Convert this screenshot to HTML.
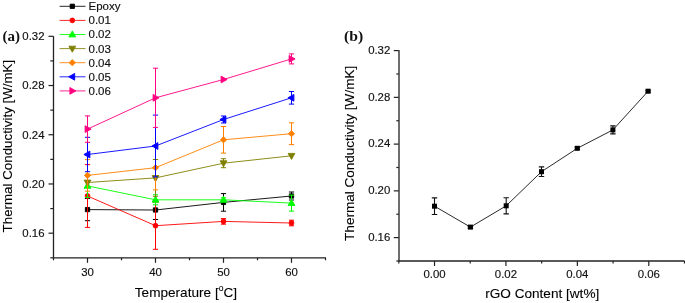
<!DOCTYPE html>
<html><head><meta charset="utf-8"><style>
html,body{margin:0;padding:0;background:#fff;}
body{width:685px;height:303px;overflow:hidden;}
svg{display:block;will-change:transform;}
.tk{font-family:"Liberation Sans", sans-serif;font-size:11.4px;fill:#111;stroke:#111;stroke-width:0.15px;}
.lg{font-family:"Liberation Sans", sans-serif;font-size:11.5px;fill:#111;stroke:#111;stroke-width:0.15px;}
.tt{font-family:"Liberation Sans", sans-serif;font-size:13.3px;fill:#000;stroke:#000;stroke-width:0.1px;}
.lab{font-family:"Liberation Serif", serif;font-size:15px;font-weight:bold;fill:#111;}
</style></head><body>
<svg width="685" height="303" viewBox="0 0 685 303">
<rect width="685" height="303" fill="#fff"/>
<path d="M53.5,36.3 V257.8 H326.0" fill="none" stroke="#222" stroke-width="1.3"/>
<line x1="50.3" y1="257.80" x2="53.5" y2="257.80" stroke="#222" stroke-width="1.2"/>
<line x1="48.5" y1="233.19" x2="53.5" y2="233.19" stroke="#222" stroke-width="1.2"/>
<text x="44.5" y="237.09" text-anchor="end" class="tk">0.16</text>
<line x1="50.3" y1="208.58" x2="53.5" y2="208.58" stroke="#222" stroke-width="1.2"/>
<line x1="48.5" y1="183.97" x2="53.5" y2="183.97" stroke="#222" stroke-width="1.2"/>
<text x="44.5" y="187.87" text-anchor="end" class="tk">0.20</text>
<line x1="50.3" y1="159.36" x2="53.5" y2="159.36" stroke="#222" stroke-width="1.2"/>
<line x1="48.5" y1="134.74" x2="53.5" y2="134.74" stroke="#222" stroke-width="1.2"/>
<text x="44.5" y="138.64" text-anchor="end" class="tk">0.24</text>
<line x1="50.3" y1="110.13" x2="53.5" y2="110.13" stroke="#222" stroke-width="1.2"/>
<line x1="48.5" y1="85.52" x2="53.5" y2="85.52" stroke="#222" stroke-width="1.2"/>
<text x="44.5" y="89.42" text-anchor="end" class="tk">0.28</text>
<line x1="50.3" y1="60.91" x2="53.5" y2="60.91" stroke="#222" stroke-width="1.2"/>
<line x1="48.5" y1="36.30" x2="53.5" y2="36.30" stroke="#222" stroke-width="1.2"/>
<text x="44.5" y="40.20" text-anchor="end" class="tk">0.32</text>
<line x1="53.50" y1="257.8" x2="53.50" y2="260.3" stroke="#222" stroke-width="1.2"/>
<line x1="87.50" y1="257.8" x2="87.50" y2="262.8" stroke="#222" stroke-width="1.2"/>
<text x="87.50" y="275.8" text-anchor="middle" class="tk">30</text>
<line x1="121.50" y1="257.8" x2="121.50" y2="260.3" stroke="#222" stroke-width="1.2"/>
<line x1="155.50" y1="257.8" x2="155.50" y2="262.8" stroke="#222" stroke-width="1.2"/>
<text x="155.50" y="275.8" text-anchor="middle" class="tk">40</text>
<line x1="189.50" y1="257.8" x2="189.50" y2="260.3" stroke="#222" stroke-width="1.2"/>
<line x1="223.50" y1="257.8" x2="223.50" y2="262.8" stroke="#222" stroke-width="1.2"/>
<text x="223.50" y="275.8" text-anchor="middle" class="tk">50</text>
<line x1="257.50" y1="257.8" x2="257.50" y2="260.3" stroke="#222" stroke-width="1.2"/>
<line x1="291.50" y1="257.8" x2="291.50" y2="262.8" stroke="#222" stroke-width="1.2"/>
<text x="291.50" y="275.8" text-anchor="middle" class="tk">60</text>
<line x1="325.50" y1="257.8" x2="325.50" y2="260.3" stroke="#222" stroke-width="1.2"/>
<text x="134.8" y="296.8" class="tt" style="font-size:13.6px">Temperature [<tspan font-size="8.5" dy="-5.5">o</tspan><tspan dy="5.5">C]</tspan></text>
<text transform="translate(12,232.4) rotate(-90)" class="tt" textLength="172.6" lengthAdjust="spacingAndGlyphs">Thermal Conductivity [W/mK]</text>
<text x="2.5" y="41.2" class="lab">(a)</text>
<polyline points="87.50,209.60 155.50,210.00 223.50,202.40 291.50,196.00" fill="none" stroke="#000000" stroke-width="0.9"/>
<path d="M87.50,198.50 V220.70 M84.90,198.50 H90.10 M84.90,220.70 H90.10" fill="none" stroke="#000000" stroke-width="1"/>
<path d="M155.50,200.50 V219.50 M152.90,200.50 H158.10 M152.90,219.50 H158.10" fill="none" stroke="#000000" stroke-width="1"/>
<path d="M223.50,193.60 V211.20 M220.90,193.60 H226.10 M220.90,211.20 H226.10" fill="none" stroke="#000000" stroke-width="1"/>
<path d="M291.50,192.00 V200.00 M288.90,192.00 H294.10 M288.90,200.00 H294.10" fill="none" stroke="#000000" stroke-width="1"/>
<rect x="85.35" y="207.45" width="4.30" height="4.30" fill="#000000" stroke="#000000" stroke-width="0.9" stroke-linejoin="round"/>
<rect x="153.35" y="207.85" width="4.30" height="4.30" fill="#000000" stroke="#000000" stroke-width="0.9" stroke-linejoin="round"/>
<rect x="221.35" y="200.25" width="4.30" height="4.30" fill="#000000" stroke="#000000" stroke-width="0.9" stroke-linejoin="round"/>
<rect x="289.35" y="193.85" width="4.30" height="4.30" fill="#000000" stroke="#000000" stroke-width="0.9" stroke-linejoin="round"/>
<polyline points="87.50,196.00 155.50,225.70 223.50,221.40 291.50,223.00" fill="none" stroke="#ff0000" stroke-width="0.9"/>
<path d="M87.50,164.60 V227.40 M84.90,164.60 H90.10 M84.90,227.40 H90.10" fill="none" stroke="#ff0000" stroke-width="1"/>
<path d="M155.50,202.10 V249.30 M152.90,202.10 H158.10 M152.90,249.30 H158.10" fill="none" stroke="#ff0000" stroke-width="1"/>
<path d="M223.50,218.60 V224.20 M220.90,218.60 H226.10 M220.90,224.20 H226.10" fill="none" stroke="#ff0000" stroke-width="1"/>
<path d="M291.50,220.20 V225.80 M288.90,220.20 H294.10 M288.90,225.80 H294.10" fill="none" stroke="#ff0000" stroke-width="1"/>
<circle cx="87.50" cy="196.00" r="2.4" fill="#ff0000" stroke="#ff0000" stroke-width="0.9" stroke-linejoin="round"/>
<circle cx="155.50" cy="225.70" r="2.4" fill="#ff0000" stroke="#ff0000" stroke-width="0.9" stroke-linejoin="round"/>
<circle cx="223.50" cy="221.40" r="2.4" fill="#ff0000" stroke="#ff0000" stroke-width="0.9" stroke-linejoin="round"/>
<circle cx="291.50" cy="223.00" r="2.4" fill="#ff0000" stroke="#ff0000" stroke-width="0.9" stroke-linejoin="round"/>
<polyline points="87.50,185.90 155.50,199.80 223.50,199.80 291.50,203.10" fill="none" stroke="#00ff00" stroke-width="0.9"/>
<path d="M87.50,174.40 V197.40 M84.90,174.40 H90.10 M84.90,197.40 H90.10" fill="none" stroke="#00ff00" stroke-width="1"/>
<path d="M155.50,194.80 V204.80 M152.90,194.80 H158.10 M152.90,204.80 H158.10" fill="none" stroke="#00ff00" stroke-width="1"/>
<path d="M223.50,197.80 V201.80 M220.90,197.80 H226.10 M220.90,201.80 H226.10" fill="none" stroke="#00ff00" stroke-width="1"/>
<path d="M291.50,195.10 V211.10 M288.90,195.10 H294.10 M288.90,211.10 H294.10" fill="none" stroke="#00ff00" stroke-width="1"/>
<path d="M87.50,182.30 L90.90,188.30 L84.10,188.30Z" fill="#00ff00" stroke="#00ff00" stroke-width="0.9" stroke-linejoin="round"/>
<path d="M155.50,196.20 L158.90,202.20 L152.10,202.20Z" fill="#00ff00" stroke="#00ff00" stroke-width="0.9" stroke-linejoin="round"/>
<path d="M223.50,196.20 L226.90,202.20 L220.10,202.20Z" fill="#00ff00" stroke="#00ff00" stroke-width="0.9" stroke-linejoin="round"/>
<path d="M291.50,199.50 L294.90,205.50 L288.10,205.50Z" fill="#00ff00" stroke="#00ff00" stroke-width="0.9" stroke-linejoin="round"/>
<polyline points="87.50,182.50 155.50,177.90 223.50,163.20 291.50,155.80" fill="none" stroke="#808000" stroke-width="0.9"/>
<path d="M155.50,159.50 V196.30 M152.90,159.50 H158.10 M152.90,196.30 H158.10" fill="none" stroke="#808000" stroke-width="1"/>
<path d="M223.50,158.70 V167.70 M220.90,158.70 H226.10 M220.90,167.70 H226.10" fill="none" stroke="#808000" stroke-width="1"/>
<path d="M87.50,186.10 L90.90,180.10 L84.10,180.10Z" fill="#808000" stroke="#808000" stroke-width="0.9" stroke-linejoin="round"/>
<path d="M155.50,181.50 L158.90,175.50 L152.10,175.50Z" fill="#808000" stroke="#808000" stroke-width="0.9" stroke-linejoin="round"/>
<path d="M223.50,166.80 L226.90,160.80 L220.10,160.80Z" fill="#808000" stroke="#808000" stroke-width="0.9" stroke-linejoin="round"/>
<path d="M291.50,159.40 L294.90,153.40 L288.10,153.40Z" fill="#808000" stroke="#808000" stroke-width="0.9" stroke-linejoin="round"/>
<polyline points="87.50,175.40 155.50,167.70 223.50,139.80 291.50,133.70" fill="none" stroke="#ff8000" stroke-width="0.9"/>
<path d="M87.50,159.60 V191.20 M84.90,159.60 H90.10 M84.90,191.20 H90.10" fill="none" stroke="#ff8000" stroke-width="1"/>
<path d="M155.50,145.50 V189.90 M152.90,145.50 H158.10 M152.90,189.90 H158.10" fill="none" stroke="#ff8000" stroke-width="1"/>
<path d="M223.50,126.50 V153.10 M220.90,126.50 H226.10 M220.90,153.10 H226.10" fill="none" stroke="#ff8000" stroke-width="1"/>
<path d="M291.50,122.80 V144.60 M288.90,122.80 H294.10 M288.90,144.60 H294.10" fill="none" stroke="#ff8000" stroke-width="1"/>
<path d="M87.50,172.30 L90.60,175.40 L87.50,178.50 L84.40,175.40Z" fill="#ff8000" stroke="#ff8000" stroke-width="0.9" stroke-linejoin="round"/>
<path d="M155.50,164.60 L158.60,167.70 L155.50,170.80 L152.40,167.70Z" fill="#ff8000" stroke="#ff8000" stroke-width="0.9" stroke-linejoin="round"/>
<path d="M223.50,136.70 L226.60,139.80 L223.50,142.90 L220.40,139.80Z" fill="#ff8000" stroke="#ff8000" stroke-width="0.9" stroke-linejoin="round"/>
<path d="M291.50,130.60 L294.60,133.70 L291.50,136.80 L288.40,133.70Z" fill="#ff8000" stroke="#ff8000" stroke-width="0.9" stroke-linejoin="round"/>
<polyline points="87.50,154.50 155.50,146.00 223.50,119.50 291.50,97.80" fill="none" stroke="#0000ff" stroke-width="0.9"/>
<path d="M87.50,137.30 V171.70 M84.90,137.30 H90.10 M84.90,171.70 H90.10" fill="none" stroke="#0000ff" stroke-width="1"/>
<path d="M155.50,115.10 V176.90 M152.90,115.10 H158.10 M152.90,176.90 H158.10" fill="none" stroke="#0000ff" stroke-width="1"/>
<path d="M223.50,116.00 V123.00 M220.90,116.00 H226.10 M220.90,123.00 H226.10" fill="none" stroke="#0000ff" stroke-width="1"/>
<path d="M291.50,91.50 V104.10 M288.90,91.50 H294.10 M288.90,104.10 H294.10" fill="none" stroke="#0000ff" stroke-width="1"/>
<path d="M83.90,154.50 L89.90,151.10 L89.90,157.90Z" fill="#0000ff" stroke="#0000ff" stroke-width="0.9" stroke-linejoin="round"/>
<path d="M151.90,146.00 L157.90,142.60 L157.90,149.40Z" fill="#0000ff" stroke="#0000ff" stroke-width="0.9" stroke-linejoin="round"/>
<path d="M219.90,119.50 L225.90,116.10 L225.90,122.90Z" fill="#0000ff" stroke="#0000ff" stroke-width="0.9" stroke-linejoin="round"/>
<path d="M287.90,97.80 L293.90,94.40 L293.90,101.20Z" fill="#0000ff" stroke="#0000ff" stroke-width="0.9" stroke-linejoin="round"/>
<polyline points="87.50,129.10 155.50,97.80 223.50,79.50 291.50,58.90" fill="none" stroke="#ff0080" stroke-width="0.9"/>
<path d="M87.50,115.90 V142.30 M84.90,115.90 H90.10 M84.90,142.30 H90.10" fill="none" stroke="#ff0080" stroke-width="1"/>
<path d="M155.50,68.20 V127.40 M152.90,68.20 H158.10 M152.90,127.40 H158.10" fill="none" stroke="#ff0080" stroke-width="1"/>
<path d="M291.50,53.90 V63.90 M288.90,53.90 H294.10 M288.90,63.90 H294.10" fill="none" stroke="#ff0080" stroke-width="1"/>
<path d="M91.10,129.10 L85.10,125.70 L85.10,132.50Z" fill="#ff0080" stroke="#ff0080" stroke-width="0.9" stroke-linejoin="round"/>
<path d="M159.10,97.80 L153.10,94.40 L153.10,101.20Z" fill="#ff0080" stroke="#ff0080" stroke-width="0.9" stroke-linejoin="round"/>
<path d="M227.10,79.50 L221.10,76.10 L221.10,82.90Z" fill="#ff0080" stroke="#ff0080" stroke-width="0.9" stroke-linejoin="round"/>
<path d="M295.10,58.90 L289.10,55.50 L289.10,62.30Z" fill="#ff0080" stroke="#ff0080" stroke-width="0.9" stroke-linejoin="round"/>
<line x1="59.6" y1="6.30" x2="85.5" y2="6.30" stroke="#000000" stroke-width="0.85"/>
<rect x="70.15" y="4.15" width="4.30" height="4.30" fill="#000000" stroke="#000000" stroke-width="0.9" stroke-linejoin="round"/>
<text x="88.5" y="10.20" class="lg">Epoxy</text>
<line x1="59.6" y1="20.40" x2="85.5" y2="20.40" stroke="#ff0000" stroke-width="0.85"/>
<circle cx="72.30" cy="20.40" r="2.4" fill="#ff0000" stroke="#ff0000" stroke-width="0.9" stroke-linejoin="round"/>
<text x="88.5" y="24.30" class="lg">0.01</text>
<line x1="59.6" y1="34.50" x2="85.5" y2="34.50" stroke="#00ff00" stroke-width="0.85"/>
<path d="M72.30,30.90 L75.70,36.90 L68.90,36.90Z" fill="#00ff00" stroke="#00ff00" stroke-width="0.9" stroke-linejoin="round"/>
<text x="88.5" y="38.40" class="lg">0.02</text>
<line x1="59.6" y1="48.60" x2="85.5" y2="48.60" stroke="#808000" stroke-width="0.85"/>
<path d="M72.30,52.20 L75.70,46.20 L68.90,46.20Z" fill="#808000" stroke="#808000" stroke-width="0.9" stroke-linejoin="round"/>
<text x="88.5" y="52.50" class="lg">0.03</text>
<line x1="59.6" y1="62.70" x2="85.5" y2="62.70" stroke="#ff8000" stroke-width="0.85"/>
<path d="M72.30,59.60 L75.40,62.70 L72.30,65.80 L69.20,62.70Z" fill="#ff8000" stroke="#ff8000" stroke-width="0.9" stroke-linejoin="round"/>
<text x="88.5" y="66.60" class="lg">0.04</text>
<line x1="59.6" y1="76.80" x2="85.5" y2="76.80" stroke="#0000ff" stroke-width="0.85"/>
<path d="M68.70,76.80 L74.70,73.40 L74.70,80.20Z" fill="#0000ff" stroke="#0000ff" stroke-width="0.9" stroke-linejoin="round"/>
<text x="88.5" y="80.70" class="lg">0.05</text>
<line x1="59.6" y1="90.90" x2="85.5" y2="90.90" stroke="#ff0080" stroke-width="0.85"/>
<path d="M75.90,90.90 L69.90,87.50 L69.90,94.30Z" fill="#ff0080" stroke="#ff0080" stroke-width="0.9" stroke-linejoin="round"/>
<text x="88.5" y="94.80" class="lg">0.06</text>
<rect x="398" y="50.1" width="2" height="210.9" fill="#6e6e6e"/>
<path d="M398.6,261.0 H684.5" fill="none" stroke="#222" stroke-width="1.3"/>
<line x1="396.3" y1="261.00" x2="398.8" y2="261.00" stroke="#222" stroke-width="1.2"/>
<line x1="393.8" y1="237.62" x2="398.8" y2="237.62" stroke="#222" stroke-width="1.2"/>
<text x="390.3" y="240.82" text-anchor="end" class="tk">0.16</text>
<line x1="396.3" y1="214.24" x2="398.8" y2="214.24" stroke="#222" stroke-width="1.2"/>
<line x1="393.8" y1="190.87" x2="398.8" y2="190.87" stroke="#222" stroke-width="1.2"/>
<text x="390.3" y="194.07" text-anchor="end" class="tk">0.20</text>
<line x1="396.3" y1="167.49" x2="398.8" y2="167.49" stroke="#222" stroke-width="1.2"/>
<line x1="393.8" y1="144.11" x2="398.8" y2="144.11" stroke="#222" stroke-width="1.2"/>
<text x="390.3" y="147.31" text-anchor="end" class="tk">0.24</text>
<line x1="396.3" y1="120.73" x2="398.8" y2="120.73" stroke="#222" stroke-width="1.2"/>
<line x1="393.8" y1="97.36" x2="398.8" y2="97.36" stroke="#222" stroke-width="1.2"/>
<text x="390.3" y="100.56" text-anchor="end" class="tk">0.28</text>
<line x1="396.3" y1="73.98" x2="398.8" y2="73.98" stroke="#222" stroke-width="1.2"/>
<line x1="393.8" y1="50.60" x2="398.8" y2="50.60" stroke="#222" stroke-width="1.2"/>
<text x="390.3" y="53.80" text-anchor="end" class="tk">0.32</text>
<line x1="398.80" y1="261.0" x2="398.80" y2="263.5" stroke="#222" stroke-width="1.2"/>
<line x1="434.51" y1="261.0" x2="434.51" y2="266.0" stroke="#222" stroke-width="1.2"/>
<text x="434.51" y="277.8" text-anchor="middle" class="tk">0.00</text>
<line x1="470.23" y1="261.0" x2="470.23" y2="263.5" stroke="#222" stroke-width="1.2"/>
<line x1="505.94" y1="261.0" x2="505.94" y2="266.0" stroke="#222" stroke-width="1.2"/>
<text x="505.94" y="277.8" text-anchor="middle" class="tk">0.02</text>
<line x1="541.65" y1="261.0" x2="541.65" y2="263.5" stroke="#222" stroke-width="1.2"/>
<line x1="577.36" y1="261.0" x2="577.36" y2="266.0" stroke="#222" stroke-width="1.2"/>
<text x="577.36" y="277.8" text-anchor="middle" class="tk">0.04</text>
<line x1="613.08" y1="261.0" x2="613.08" y2="263.5" stroke="#222" stroke-width="1.2"/>
<line x1="648.79" y1="261.0" x2="648.79" y2="266.0" stroke="#222" stroke-width="1.2"/>
<text x="648.79" y="277.8" text-anchor="middle" class="tk">0.06</text>
<line x1="684.50" y1="261.0" x2="684.50" y2="263.5" stroke="#222" stroke-width="1.2"/>
<text x="485.2" y="297.7" class="tt" style="font-size:13.6px">rGO Content [wt%]</text>
<text transform="translate(354.2,240.9) rotate(-90)" class="tt" textLength="175.1" lengthAdjust="spacingAndGlyphs">Thermal Conductivity [W/mK]</text>
<text x="344" y="41.2" class="lab" textLength="19.2" lengthAdjust="spacingAndGlyphs">(b)</text>
<polyline points="434.5,206.2 470.4,227.1 506.2,205.8 541.5,171.7 577.3,148.3 612.9,129.9 648.1,91.2" fill="none" stroke="#2a2a2a" stroke-width="1"/>
<path d="M434.5,197.90 V214.50 M431.80,197.90 H437.20 M431.80,214.50 H437.20" fill="none" stroke="#111" stroke-width="1.1"/>
<path d="M470.4,226.10 V228.10 M467.70,226.10 H473.10 M467.70,228.10 H473.10" fill="none" stroke="#111" stroke-width="1.1"/>
<path d="M506.2,197.70 V213.90 M503.50,197.70 H508.90 M503.50,213.90 H508.90" fill="none" stroke="#111" stroke-width="1.1"/>
<path d="M541.5,166.90 V176.50 M538.80,166.90 H544.20 M538.80,176.50 H544.20" fill="none" stroke="#111" stroke-width="1.1"/>
<path d="M577.3,147.30 V149.30 M574.60,147.30 H580.00 M574.60,149.30 H580.00" fill="none" stroke="#111" stroke-width="1.1"/>
<path d="M612.9,125.90 V133.90 M610.20,125.90 H615.60 M610.20,133.90 H615.60" fill="none" stroke="#111" stroke-width="1.1"/>
<path d="M648.1,90.20 V92.20 M645.40,90.20 H650.80 M645.40,92.20 H650.80" fill="none" stroke="#111" stroke-width="1.1"/>
<rect x="432.00" y="203.70" width="5" height="5" fill="#000"/>
<rect x="467.90" y="224.60" width="5" height="5" fill="#000"/>
<rect x="503.70" y="203.30" width="5" height="5" fill="#000"/>
<rect x="539.00" y="169.20" width="5" height="5" fill="#000"/>
<rect x="574.80" y="145.80" width="5" height="5" fill="#000"/>
<rect x="610.40" y="127.40" width="5" height="5" fill="#000"/>
<rect x="645.60" y="88.70" width="5" height="5" fill="#000"/>
</svg>
</body></html>
